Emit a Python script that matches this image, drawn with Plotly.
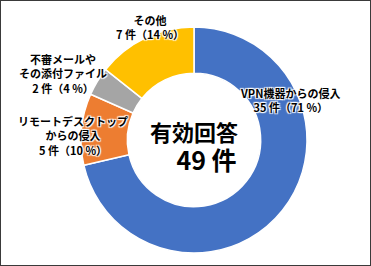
import plotly.graph_objects as go

# Data
categories = ["VPN機器からの侵入", "リモートデスクトップ<br>からの侵入", "不審メールや<br>その添付ファイル", "その他"]
counts = [35, 5, 2, 7]
colors = ["#4472C4", "#ED7D31", "#A5A5A5", "#FFC000"]
center_title = "有効回答"
unit = "件"

total = sum(counts)
pcts = [round(v / total * 100) for v in counts]

W, H = 371, 266
# label anchor pixel positions (layout only)
label_pos = [(290, 100), (73, 135), (63, 73), (150, 27)]

FONT = "Noto Sans CJK JP"
halo = "1px 1px 1px #fff, -1px -1px 1px #fff, 1px -1px 1px #fff, -1px 1px 1px #fff, 0 0 2px #fff"

cx, cy, R = 194, 140, 113
fig = go.Figure(go.Pie(
    labels=[c.replace("<br>", "") for c in categories],
    values=counts,
    marker=dict(colors=colors, line=dict(color="white", width=1.5)),
    hole=0.59,
    sort=False,
    direction="clockwise",
    rotation=0,
    textinfo="none",
    hoverinfo="label+value+percent",
    domain=dict(x=[(cx - R) / W, (cx + R) / W], y=[(H - cy - R) / H, (H - cy + R) / H]),
    showlegend=False,
))

anns = []
for cat, v, p, (px, py) in zip(categories, counts, pcts, label_pos):
    anns.append(dict(
        x=px / W, y=1 - py / H, xref="paper", yref="paper",
        text=f"<b>{cat}<br>{v} {unit}（{p} %）</b>",
        showarrow=False, xanchor="center", yanchor="middle",
        font=dict(family=FONT, size=11, color="#000", shadow=halo),
        align="center",
    ))
anns.append(dict(x=194 / W, y=1 - 146 / H, xref="paper", yref="paper",
                 text=(f"<b>{center_title}</b><br>"
                       f"<span style='font-size:25px'><b>\u3000{total} {unit}</b></span>"),
                 showarrow=False, align="center", xanchor="center", yanchor="middle",
                 font=dict(family=FONT, size=22, color="#000")))

fig.update_layout(
    width=W, height=H,
    margin=dict(l=0, r=0, t=0, b=0),
    paper_bgcolor="white",
    annotations=anns,
    shapes=[dict(type="rect", xref="paper", yref="paper", x0=0, y0=0, x1=1, y1=1,
                 line=dict(color="#3a3a3a", width=2))],
)

fig.write_html("out.html")
